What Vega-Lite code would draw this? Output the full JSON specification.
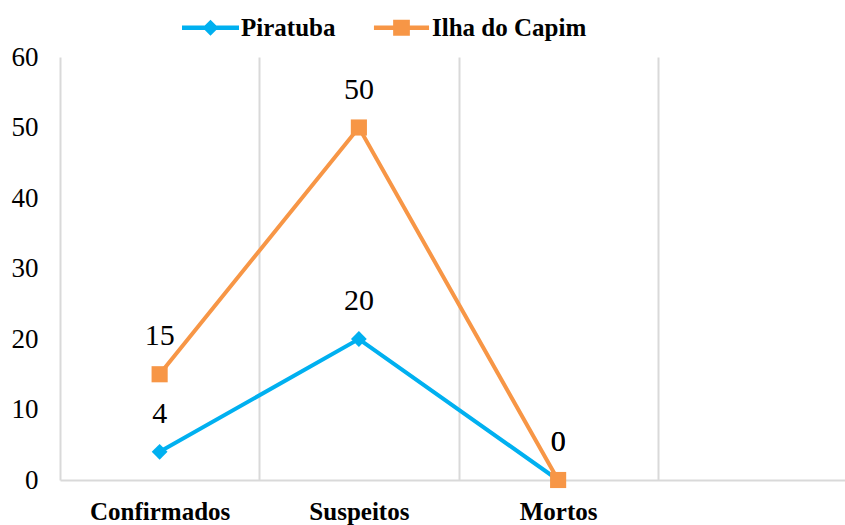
{
  "$schema": "https://vega.github.io/schema/vega-lite/v6.json",
  "autosize": {"type": "none"},
  "width": 785,
  "height": 423,
  "padding": {"left": 60, "top": 57, "right": 0, "bottom": 45},
  "background": "white",
  "config": {"view": {"stroke": null}, "font": "Liberation Serif"},
  "data": {"values": [
    {"categoria": "Confirmados", "serie": "Piratuba", "valor": 4},
    {"categoria": "Suspeitos", "serie": "Piratuba", "valor": 20},
    {"categoria": "Mortos", "serie": "Piratuba", "valor": 0},
    {"categoria": "Confirmados", "serie": "Ilha do Capim", "valor": 15},
    {"categoria": "Suspeitos", "serie": "Ilha do Capim", "valor": 50},
    {"categoria": "Mortos", "serie": "Ilha do Capim", "valor": 0}
  ]},
  "encoding": {
    "x": {
      "field": "categoria", "type": "nominal", "bandPosition": 0.5, "sort": null,
      "scale": {"type": "band", "domain": ["Confirmados", "Suspeitos", "Mortos", " "], "range": [0, 797], "paddingInner": 0, "paddingOuter": 0},
      "axis": {"title": null, "labelAngle": 0, "tickBand": "extent", "grid": true, "gridColor": "#D9D9D9", "gridWidth": 2, "domainColor": "#D9D9D9", "domainWidth": 2, "ticks": false, "tickSize": 0, "labelPadding": 19, "labelFont": "Liberation Serif", "labelFontWeight": "bold", "labelFontSize": 25, "labelColor": "black", "labelBaseline": "top"}
    },
    "y": {
      "field": "valor", "type": "quantitative",
      "scale": {"domain": [0, 60], "nice": false, "zero": true},
      "axis": {"title": null, "values": [0, 10, 20, 30, 40, 50, 60], "grid": false, "domain": false, "ticks": false, "tickSize": 0, "labelPadding": 22, "labelFont": "Liberation Serif", "labelFontSize": 27, "labelColor": "black"}
    },
    "color": {
      "field": "serie", "type": "nominal",
      "scale": {"domain": ["Piratuba", "Ilha do Capim"], "range": ["#00B0F0", "#F79646"]},
      "legend": {
        "orient": "none", "legendX": 138, "legendY": -42, "direction": "horizontal", "title": null, "padding": 0,
        "labelFont": "Liberation Serif", "labelFontWeight": "bold", "labelFontSize": 25, "labelColor": "black", "labelLimit": 400,
        "labelOffset": 18, "columnPadding": 37, "symbolSize": 361, "symbolStrokeWidth": 0,
        "encode": {"symbols": {"update": {
          "shape": {"signal": "datum.value == 'Piratuba' ? 'M-3,-0.24L3,-0.24L3,0.24L-3,0.24Z M0,-0.84L0.84,0L0,0.84L-0.84,0Z' : 'M-2.9,-0.24L2.9,-0.24L2.9,0.24L-2.9,0.24Z M-0.88,-0.85L0.88,-0.85L0.88,0.85L-0.88,0.85Z'"},
          "fill": {"signal": "datum.value == 'Piratuba' ? '#00B0F0' : '#F79646'"},
          "stroke": {"value": "transparent"},
          "opacity": {"value": 1},
          "fillOpacity": {"value": 1}
        }}}
      }
    }
  },
  "layer": [
    {"mark": {"type": "line", "strokeWidth": 4}},
    {
      "transform": [{"filter": "datum.serie == 'Piratuba'"}],
      "mark": {"type": "point", "filled": true, "opacity": 1, "size": 250, "shape": "diamond"}
    },
    {
      "transform": [{"filter": "datum.serie == 'Ilha do Capim'"}],
      "mark": {"type": "point", "filled": true, "opacity": 1, "size": 260, "shape": "square"}
    },
    {
      "mark": {"type": "text", "dy": -38, "fontSize": 30, "font": "Liberation Serif", "baseline": "middle"},
      "encoding": {"text": {"field": "valor", "type": "quantitative"}, "color": {"value": "black"}}
    }
  ]
}
